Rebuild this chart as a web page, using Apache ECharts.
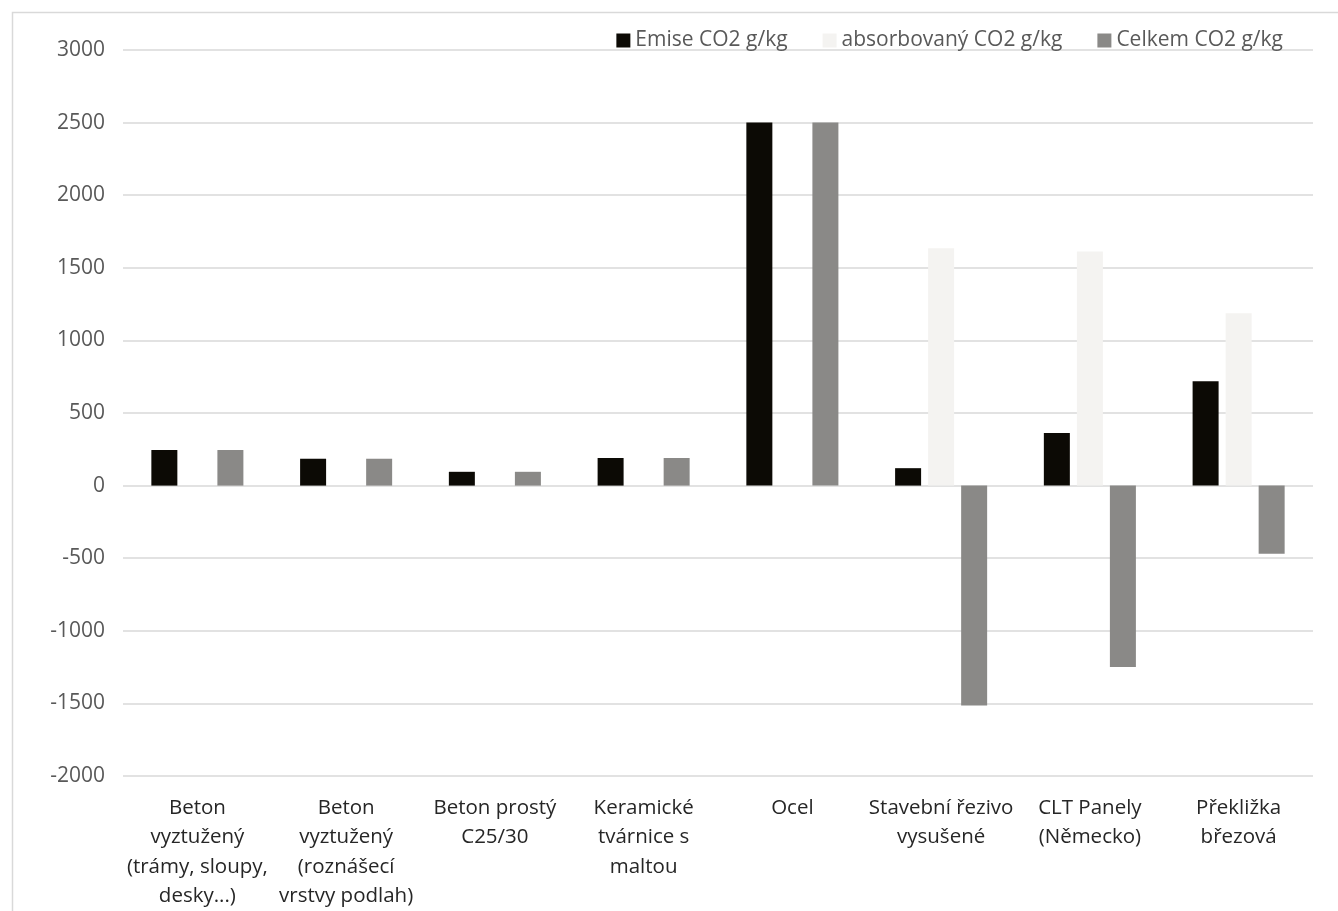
<!DOCTYPE html>
<html>
<head>
<meta charset="utf-8">
<script src="https://cdn.jsdelivr.net/npm/echarts@6/dist/echarts.min.js"></script>
<style>
  html, body { margin: 0; padding: 0; background: #ffffff; }
  #chart { width: 1338px; height: 911px; }
</style>
</head>
<body>
<div id="chart"></div>
<script>
// Materiály (popisky osy X)
const categories = [
  'Beton\nvyztužený\n(trámy, sloupy,\ndesky...)',
  'Beton\nvyztužený\n(roznášecí\nvrstvy podlah)',
  'Beton prostý\nC25/30',
  'Keramické\ntvárnice s\nmaltou',
  'Ocel',
  'Stavební řezivo\nvysušené',
  'CLT Panely\n(Německo)',
  'Překližka\nbřezová'
];

// Hodnoty v g CO2 na kg materiálu
const emise = [245, 185, 95, 190, 2500, 120, 363, 718];
const absorbovany = [0, 0, 0, 0, 0, 1635, 1612, 1187];
const celkem = [245, 185, 95, 190, 2500, -1515, -1249, -469];

const seriesNames = ['Emise CO2 g/kg', 'absorbovaný CO2 g/kg', 'Celkem CO2 g/kg'];
const yTicks = { min: -2000, max: 3000, interval: 500 };

const fontFamily = '"Open Sans", Lato, sans-serif';

const chart = echarts.init(document.getElementById('chart'));
chart.setOption({
  animation: false,
  backgroundColor: '#ffffff',
  textStyle: { fontFamily: fontFamily },
  graphic: [{
    type: 'rect',
    shape: { x: 12.5, y: 12.5, width: 1400, height: 1000 },
    style: { fill: 'none', stroke: '#d9d9d9', lineWidth: 1.5 },
    silent: true
  }],
  legend: {
    top: 25,
    right: 50,
    itemWidth: 14,
    itemHeight: 14,
    itemGap: 35,
    icon: 'rect',
    textStyle: { fontSize: 21, color: '#595959', fontFamily: fontFamily },
    data: seriesNames
  },
  grid: { left: 123, right: 25, top: 50, bottom: 135, outerBoundsMode: 'none' },
  xAxis: {
    type: 'category',
    data: categories,
    axisLine: { show: false },
    axisTick: { show: false },
    axisLabel: {
      interval: 0,
      margin: 17,
      fontSize: 20.5,
      lineHeight: 29.5,
      color: '#262626',
      fontFamily: fontFamily,
      verticalAlign: 'top'
    }
  },
  yAxis: {
    type: 'value',
    min: yTicks.min,
    max: yTicks.max,
    interval: yTicks.interval,
    axisLine: { show: false },
    axisTick: { show: false },
    axisLabel: {
      fontSize: 21, color: '#595959', margin: 18, fontFamily: fontFamily,
      formatter: function (v) { return String(v); }
    },
    splitLine: { lineStyle: { color: '#d9d9d9', width: 1.5 } }
  },
  series: [
    {
      name: seriesNames[0], type: 'bar', data: emise,
      barWidth: 26, barGap: '27%',
      itemStyle: { color: '#0c0a05' }
    },
    {
      name: seriesNames[1], type: 'bar', data: absorbovany,
      barWidth: 26, barGap: '27%',
      itemStyle: { color: '#f4f3f1' }
    },
    {
      name: seriesNames[2], type: 'bar', data: celkem,
      barWidth: 26, barGap: '27%',
      itemStyle: { color: '#8a8987' }
    }
  ]
});
</script>
</body>
</html>
